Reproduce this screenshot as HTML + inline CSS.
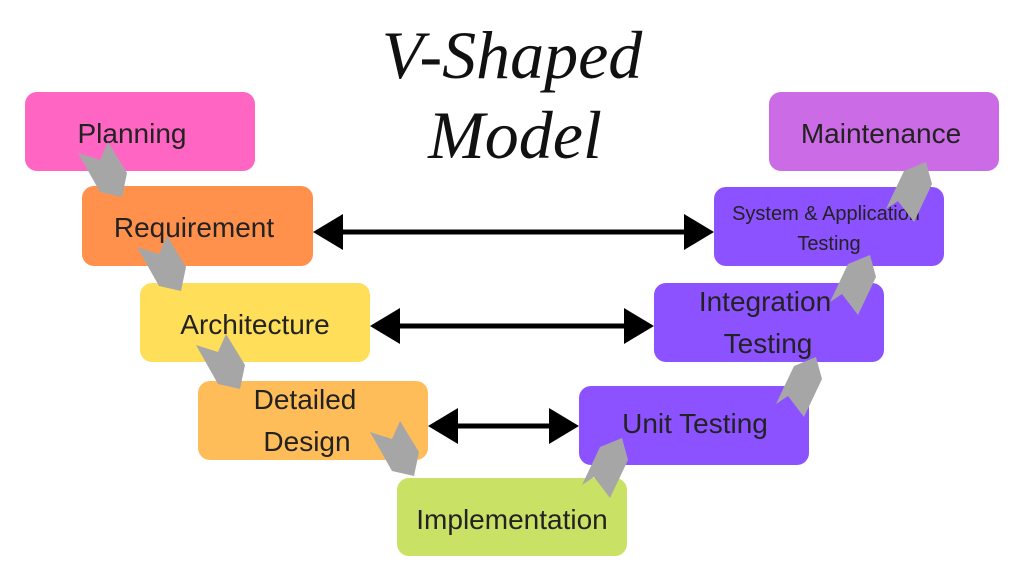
<!DOCTYPE html>
<html><head><meta charset="utf-8"><style>
html,body{margin:0;padding:0;background:#fff;}
svg{display:block}
text{font-family:"Liberation Sans",sans-serif;fill:#222;text-anchor:middle;}
</style></head><body>
<svg width="1024" height="576" viewBox="0 0 1024 576" xmlns="http://www.w3.org/2000/svg">
<defs>
<polygon id="dn" points="0,0 22,7 30,-11 49,20 44,44 22,39" fill="#a6a6a6"/>
<polygon id="up" points="0,0 12,-8 28,13 46,-25 40,-47 18,-38" fill="#a6a6a6"/>
</defs>
<text x="512" y="78" style="font-family:'Liberation Serif',serif;font-style:italic;font-size:68px;fill:#111">V-Shaped</text>
<text x="515" y="158" style="font-family:'Liberation Serif',serif;font-style:italic;font-size:68px;fill:#111">Model</text>

<rect x="25" y="92" width="230" height="79" rx="12" fill="#ff66c4"/>
<rect x="82" y="186" width="231" height="80" rx="12" fill="#ff914d"/>
<rect x="140" y="283" width="230" height="79" rx="12" fill="#ffde59"/>
<rect x="198" y="381" width="230" height="79" rx="12" fill="#ffbd59"/>
<rect x="397" y="478" width="230" height="78" rx="12" fill="#c9e265"/>
<rect x="579" y="386" width="230" height="79" rx="12" fill="#8c52ff"/>
<rect x="654" y="283" width="230" height="79" rx="12" fill="#8c52ff"/>
<rect x="714" y="187" width="230" height="79" rx="12" fill="#8c52ff"/>
<rect x="769" y="92" width="230" height="79" rx="12" fill="#cb6ce6"/>

<g font-size="28">
<text x="132" y="143">Planning</text>
<text x="194" y="237">Requirement</text>
<text x="255" y="334">Architecture</text>
<text x="305" y="409">Detailed</text>
<text x="307" y="451">Design</text>
<text x="512" y="529">Implementation</text>
<text x="695" y="433">Unit Testing</text>
<text x="765" y="311">Integration</text>
<text x="768" y="353">Testing</text>
<text x="881" y="143">Maintenance</text>
</g>
<text x="826" y="220" font-size="20">System &amp; Application</text>
<text x="829" y="250" font-size="20">Testing</text>

<g fill="#000" stroke="#000">
<line x1="340" y1="232" x2="688" y2="232" stroke-width="5"/>
<polygon points="313,232 343,214 343,250" stroke="none"/>
<polygon points="714,232 684,214 684,250" stroke="none"/>
<line x1="397" y1="326" x2="628" y2="326" stroke-width="5"/>
<polygon points="370,326 400,308 400,344" stroke="none"/>
<polygon points="654,326 624,308 624,344" stroke="none"/>
<line x1="455" y1="426" x2="553" y2="426" stroke-width="5"/>
<polygon points="428,426 458,408 458,444" stroke="none"/>
<polygon points="579,426 549,408 549,444" stroke="none"/>
</g>

<use href="#dn" x="78" y="153"/>
<use href="#dn" x="137" y="247"/>
<use href="#dn" x="196" y="345"/>
<use href="#dn" x="370" y="432"/>
<use href="#up" x="582" y="485"/>
<use href="#up" x="776" y="404"/>
<use href="#up" x="830" y="302"/>
<use href="#up" x="886" y="209"/>
</svg>
</body></html>
